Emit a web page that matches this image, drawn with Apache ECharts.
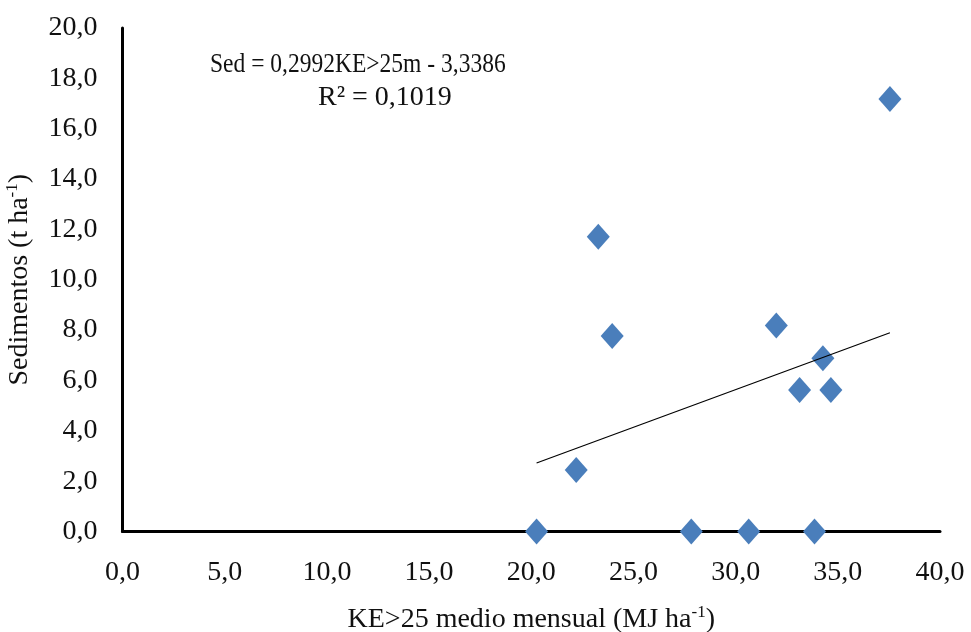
<!DOCTYPE html>
<html>
<head>
<meta charset="utf-8">
<script src="https://cdn.jsdelivr.net/npm/echarts@6/dist/echarts.min.js"></script>
<style>html,body{margin:0;padding:0;background:#fff}#c{width:971px;height:632px}</style>
</head>
<body>
<div id="c"></div>
<script>
// Data
const keValues = [20.26, 22.2, 23.28, 23.96, 27.83, 30.64, 31.99, 33.13, 33.86, 34.27, 34.66, 37.55];
const sedValues = [0, 2.44, 11.71, 7.77, 0, 0, 8.18, 5.62, 0, 6.88, 5.62, 17.18];
const trendSlope = 0.2992;
const trendIntercept = -3.3386;
const equationText = 'Sed = 0,2992KE>25m - 3,3386';
const r2Text = 'R² = 0,1019';
const xTitle = 'KE>25 medio mensual (MJ ha';
const yTitle = 'Sedimentos (t ha';

const points = keValues.map((x, i) => [x, sedValues[i]]);
const xMin = Math.min(...keValues), xMax = Math.max(...keValues);
const trend = [xMin, xMax].map(x => [x, trendSlope * x + trendIntercept]);

const font = 'Liberation Serif';
const fmt = v => v.toFixed(1).replace('.', ',');
const richTitle = {
  t: {fontFamily: font, fontSize: 28, color: '#111'},
  s: {fontFamily: font, fontSize: 17, color: '#111', padding: [0, 0, 13, 0]}
};

const chart = echarts.init(document.getElementById('c'), null, {renderer: 'canvas'});
chart.setOption({
  animation: false,
  backgroundColor: '#fff',
  grid: {left: 122.5, right: 31, top: 28, bottom: 100.5, outerBoundsMode: 'none', containLabel: false},
  xAxis: {
    type: 'value', min: 0, max: 40, interval: 5,
    axisLine: {show: true, onZero: false, lineStyle: {color: '#000', width: 3}},
    axisTick: {show: false},
    splitLine: {show: false},
    axisLabel: {formatter: fmt, fontFamily: font, fontSize: 28, color: '#111', margin: 27},
    name: '{t|' + xTitle + '}{s|-1}{t|)}',
    nameLocation: 'middle', nameGap: 73,
    nameTextStyle: {rich: richTitle}
  },
  yAxis: {
    type: 'value', min: 0, max: 20, interval: 2,
    axisLine: {show: true, onZero: false, lineStyle: {color: '#000', width: 3}},
    axisTick: {show: false},
    splitLine: {show: false},
    axisLabel: {formatter: fmt, fontFamily: font, fontSize: 28, color: '#111', margin: 25},
    name: '{t|' + yTitle + '}{s|-1}{t|)}',
    nameLocation: 'middle', nameGap: 88, nameRotate: 90,
    nameTextStyle: {rich: richTitle}
  },
  series: [
    {
      type: 'line', data: trend, symbol: 'none', silent: true,
      lineStyle: {color: '#000', width: 1.2}, z: 3
    },
    {
      type: 'scatter', data: points, symbol: 'diamond', symbolSize: [23, 26],
      itemStyle: {color: '#4A7EBB', opacity: 1}, z: 2
    }
  ],
  graphic: [
    {type: 'text', x: 210, y: 51, scaleX: 0.84, style: {text: equationText, font: '28px "Liberation Serif"', fill: '#111'}},
    {type: 'text', x: 318, y: 84, style: {text: r2Text, font: '28px "Liberation Serif"', fill: '#111'}}
  ]
});
</script>
</body>
</html>
